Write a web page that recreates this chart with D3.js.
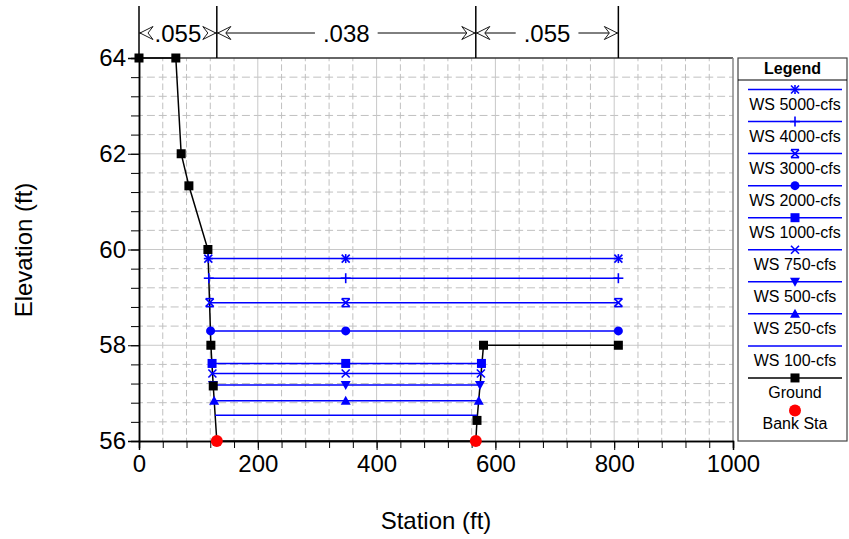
<!DOCTYPE html>
<html>
<head>
<meta charset="utf-8">
<script src="https://cdn.jsdelivr.net/npm/d3@7"></script>
<style>
  html, body { margin: 0; padding: 0; background: #fff; }
  text { font-family: "Liberation Sans", Arial, sans-serif; }
</style>
</head>
<body>
<svg id="chart" width="849" height="539"></svg>
<script>
// ---------- data ----------
const groundSta  = [0, 62, 71, 84, 116, 121, 125, 131, 567, 569, 580, 807];
const groundElev = [64, 64, 62, 61.33, 60, 58, 57.15, 56, 56, 56.43, 58, 58];

const bankSta  = [131, 567];
const bankElev = [56, 56];

const wsNames   = ["WS 5000-cfs", "WS 4000-cfs", "WS 3000-cfs", "WS 2000-cfs", "WS 1000-cfs", "WS 750-cfs", "WS 500-cfs", "WS 250-cfs", "WS 100-cfs"];
const wsElev    = [59.81, 59.40, 58.89, 58.30, 57.62, 57.41, 57.17, 56.84, 56.54];
const wsLeft    = [116.7, 117.5, 119, 120.5, 123, 123.5, 124.5, 126.5, 128];
const wsMid     = [348, 348, 348, 348, 348, 348, 348, 348, 348];
const wsRight   = [807, 807, 807, 807, 576.5, 575.5, 574, 572, 569.5];
const wsMarkers = ["asterisk", "plus", "hourglass", "circle", "square", "cross", "triDown", "triUp", "none"];

const nBounds = [0, 131, 567, 807];
const nValues = [".055", ".038", ".055"];

const xTicks = [0, 200, 400, 600, 800, 1000];
const yTicks = [56, 58, 60, 62, 64];

// ---------- layout ----------
const svg = d3.select("#chart");
const L = 139, R = 733, T = 58, B = 441;
const x = d3.scaleLinear().domain([0, 1000]).range([L, R]);
const y = d3.scaleLinear().domain([56, 64]).range([B, T]);
const FONT = '"Liberation Sans", Arial, sans-serif';
const BLUE = "#0000ff";

// ---------- grid ----------
const grid = svg.append("g");
const xMinor = d3.range(0, 1000.01, 40).filter(v => v % 200 !== 0);
const yMinor = d3.range(56, 64.001, 0.4).filter(v => Math.abs(v / 2 - Math.round(v / 2)) > 0.01);
const xMajorInner = xTicks.filter(v => v > 0 && v < 1000);
const yMajorInner = yTicks.filter(v => v > 56 && v < 64);
const perX = (x(40) - x(0)) / 2;      // horizontal dash period
const perY = (y(56) - y(56.4)) / 2;   // vertical dash period

grid.selectAll("line.hmin").data(yMinor).join("line")
  .attr("x1", L).attr("x2", R)
  .attr("y1", d => y(d)).attr("y2", d => y(d))
  .attr("stroke", "#c0c0c0").attr("stroke-width", 1)
  .attr("stroke-dasharray", `8,${perX - 8}`).attr("stroke-dashoffset", 4);
grid.selectAll("line.vmin").data(xMinor).join("line")
  .attr("x1", d => x(d)).attr("x2", d => x(d))
  .attr("y1", B).attr("y2", T)
  .attr("stroke", "#c0c0c0").attr("stroke-width", 1)
  .attr("stroke-dasharray", `6.5,${perY - 6.5}`).attr("stroke-dashoffset", 3.25);
grid.selectAll("line.hmaj").data(yMajorInner).join("line")
  .attr("x1", L).attr("x2", R)
  .attr("y1", d => y(d)).attr("y2", d => y(d))
  .attr("stroke", "#c8c8c8").attr("stroke-width", 1);
grid.selectAll("line.vmaj").data(xMajorInner).join("line")
  .attr("x1", d => x(d)).attr("x2", d => x(d))
  .attr("y1", B).attr("y2", T)
  .attr("stroke", "#c8c8c8").attr("stroke-width", 1);

// frame (top, right)
svg.append("line").attr("x1", L).attr("x2", R).attr("y1", T).attr("y2", T)
  .attr("stroke", "#333").attr("stroke-width", 1.5);
svg.append("line").attr("x1", R).attr("x2", R).attr("y1", T).attr("y2", B)
  .attr("stroke", "#888").attr("stroke-width", 1.5);

// ---------- axes ----------
const xAxisMinor = d3.axisBottom(x).tickValues(d3.range(0, 1000.01, 40)).tickSize(7).tickFormat("");
const xAxis = d3.axisBottom(x).tickValues(xTicks).tickSize(9).tickPadding(5).tickFormat(d3.format("d"));
const yAxisMinor = d3.axisLeft(y).tickValues(d3.range(56, 64.001, 0.4)).tickSize(8).tickFormat("");
const yAxis = d3.axisLeft(y).tickValues(yTicks).tickSize(11).tickPadding(2).tickFormat(d3.format("d"));

function styleAxis(g) {
  g.select(".domain").attr("stroke", "#000").attr("stroke-width", 1.5);
  g.selectAll(".tick line").attr("stroke", "#000").attr("stroke-width", 1);
  g.selectAll(".tick text").attr("font-family", FONT).attr("font-size", 24).attr("fill", "#000");
}
svg.append("g").attr("transform", `translate(0,${B})`).call(xAxisMinor).call(styleAxis);
svg.append("g").attr("transform", `translate(0,${B})`).call(xAxis).call(styleAxis);
svg.append("g").attr("transform", `translate(${L},0)`).call(yAxisMinor).call(styleAxis);
svg.append("g").attr("transform", `translate(${L},0)`).call(yAxis).call(styleAxis);

svg.append("text").attr("x", 436).attr("y", 529).attr("text-anchor", "middle")
  .attr("font-size", 24).attr("font-family", FONT).text("Station (ft)");
svg.append("text").attr("transform", "translate(32,250) rotate(-90)").attr("text-anchor", "middle")
  .attr("font-size", 24).attr("font-family", FONT).text("Elevation (ft)");

// ---------- Manning's n annotation ----------
const ann = svg.append("g");
const annY = 33;
ann.selectAll("line.nb").data(nBounds).join("line")
  .attr("x1", d => x(d)).attr("x2", d => x(d)).attr("y1", 6).attr("y2", T)
  .attr("stroke", "#000").attr("stroke-width", 1.5);
function arrowPath(tipX, dir) {
  // dir: +1 points right, -1 points left
  const p = [[tipX, annY], [tipX - dir * 13, annY - 6.5], [tipX - dir * 8, annY], [tipX - dir * 13, annY + 6.5]];
  return "M" + p.map(q => q.join(",")).join("L") + "Z";
}
nValues.forEach((v, i) => {
  const x0 = x(nBounds[i]), x1 = x(nBounds[i + 1]);
  const cx = (x0 + x1) / 2;
  const t = ann.append("text").attr("x", cx).attr("y", annY + 8.5).attr("text-anchor", "middle")
    .attr("font-size", 24).attr("font-family", FONT).text(v);
  const w = t.node().getComputedTextLength();
  const ls = cx - w / 2 - 8, re = cx + w / 2 + 8;
  if (ls > x0 + 2) ann.append("line").attr("x1", x0).attr("x2", ls).attr("y1", annY).attr("y2", annY).attr("stroke", "#000");
  if (re < x1 - 2) ann.append("line").attr("x1", re).attr("x2", x1).attr("y1", annY).attr("y2", annY).attr("stroke", "#000");
  ann.append("path").attr("d", arrowPath(x0 + 1, -1)).attr("fill", "#fff").attr("stroke", "#000").attr("stroke-width", 0.9);
  ann.append("path").attr("d", arrowPath(x1 - 1, 1)).attr("fill", "#fff").attr("stroke", "#000").attr("stroke-width", 0.9);
});

// ---------- markers ----------
function drawMarker(g, type, cx, cy, color) {
  const s = 4;
  const ln = (x1, y1, x2, y2) => g.append("line").attr("x1", cx + x1).attr("y1", cy + y1)
    .attr("x2", cx + x2).attr("y2", cy + y2).attr("stroke", color).attr("stroke-width", 1.6);
  switch (type) {
    case "asterisk":
      ln(-s, -s, s, s); ln(-s, s, s, -s); ln(-s - 0.5, 0, s + 0.5, 0); ln(0, -s - 0.5, 0, s + 0.5); break;
    case "plus":
      ln(-s - 1, 0, s + 1, 0); ln(0, -s - 1, 0, s + 1); break;
    case "cross":
      ln(-s, -s, s, s); ln(-s, s, s, -s); break;
    case "hourglass":
      ln(-s, -s, s, s); ln(-s, s, s, -s); ln(-s, -s, s, -s); ln(-s, s, s, s); break;
    case "circle":
      g.append("circle").attr("cx", cx).attr("cy", cy).attr("r", 4.5).attr("fill", color); break;
    case "square":
      g.append("rect").attr("x", cx - 4.5).attr("y", cy - 4.5).attr("width", 9).attr("height", 9).attr("fill", color); break;
    case "triDown":
      g.append("path").attr("d", `M${cx - 5},${cy - 4}L${cx + 5},${cy - 4}L${cx},${cy + 5}Z`).attr("fill", color); break;
    case "triUp":
      g.append("path").attr("d", `M${cx - 5},${cy + 4}L${cx + 5},${cy + 4}L${cx},${cy - 5}Z`).attr("fill", color); break;
    case "groundSq":
      g.append("rect").attr("x", cx - 4.5).attr("y", cy - 4.5).attr("width", 9).attr("height", 9).attr("fill", color); break;
    case "bank":
      g.append("circle").attr("cx", cx).attr("cy", cy).attr("r", 6).attr("fill", color); break;
  }
}

// ---------- ground ----------
const groundPts = groundSta.map((s, i) => [s, groundElev[i]]);
const lineGen = d3.line().x(d => x(d[0])).y(d => y(d[1]));
svg.append("path").attr("d", lineGen(groundPts)).attr("fill", "none")
  .attr("stroke", "#000").attr("stroke-width", 1.5);

// ---------- water surfaces ----------
const wsG = svg.append("g");
wsNames.forEach((n, i) => {
  const pts = [[wsLeft[i], wsElev[i]], [wsMid[i], wsElev[i]], [wsRight[i], wsElev[i]]];
  wsG.append("path").attr("d", lineGen(pts)).attr("fill", "none")
    .attr("stroke", BLUE).attr("stroke-width", 1.5);
  if (wsMarkers[i] !== "none") pts.forEach(p => drawMarker(wsG, wsMarkers[i], x(p[0]), y(p[1]), BLUE));
});

const gm = svg.append("g");
groundPts.forEach(p => {
  if (!bankSta.includes(p[0])) drawMarker(gm, "groundSq", x(p[0]), y(p[1]), "#000");
});
bankSta.forEach((s, i) => drawMarker(gm, "bank", x(s), y(bankElev[i]), "#ff0000"));

// ---------- legend ----------
const lg = svg.append("g");
const LX0 = 738, LX1 = 847, LY0 = 58, LY1 = 441;
lg.append("rect").attr("x", LX0).attr("y", LY0).attr("width", LX1 - LX0).attr("height", LY1 - LY0)
  .attr("fill", "#fff").attr("stroke", "#444").attr("stroke-width", 1.2);
lg.append("text").attr("x", (LX0 + LX1) / 2).attr("y", 74).attr("text-anchor", "middle")
  .attr("font-size", 16).attr("font-weight", "bold").attr("font-family", FONT).text("Legend");
lg.append("line").attr("x1", LX0).attr("x2", LX1).attr("y1", 80).attr("y2", 80).attr("stroke", "#000");
const legItems = wsNames.map((n, i) => ({ name: n, color: BLUE, marker: wsMarkers[i] }))
  .concat([{ name: "Ground", color: "#000", marker: "groundSq" }]);
const lcx = 795;
legItems.forEach((d, i) => {
  const ly = 89.5 + i * 32.05;
  lg.append("line").attr("x1", 748).attr("x2", 842).attr("y1", ly).attr("y2", ly)
    .attr("stroke", d.color).attr("stroke-width", 1.5);
  if (d.marker !== "none") drawMarker(lg, d.marker, lcx, ly, d.color);
  lg.append("text").attr("x", lcx).attr("y", ly + 20.5).attr("text-anchor", "middle")
    .attr("font-size", 16).attr("font-family", FONT).text(d.name);
});
drawMarker(lg, "bank", lcx, 410.5, "#ff0000");
lg.append("text").attr("x", lcx).attr("y", 429).attr("text-anchor", "middle")
  .attr("font-size", 16).attr("font-family", FONT).text("Bank Sta");
</script>
</body>
</html>
